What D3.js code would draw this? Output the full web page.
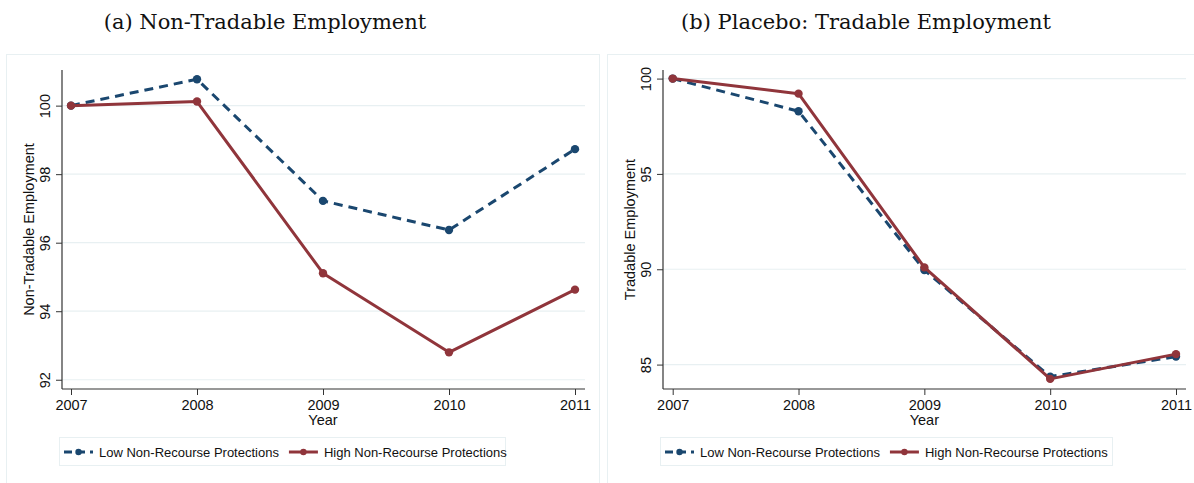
<!DOCTYPE html>
<html>
<head>
<meta charset="utf-8">
<script src="https://cdn.jsdelivr.net/npm/d3@7"></script>
<style>
  html, body { margin: 0; padding: 0; background: #fff; }
  svg { display: block; }
</style>
</head>
<body>
<svg id="chart" width="1194" height="483"></svg>
<script>
// Employment index (2007 = 100) by non-recourse protection group
const years = [2007, 2008, 2009, 2010, 2011];
const nonTradableLow  = [100, 100.77, 97.22, 96.37, 98.73];
const nonTradableHigh = [100, 100.12, 95.11, 92.80, 94.63];
const tradableLow     = [100, 98.29, 89.96, 84.37, 85.42];
const tradableHigh    = [100, 99.21, 90.10, 84.25, 85.55];
const nonTradableTicks = [92, 94, 96, 98, 100];
const tradableTicks    = [85, 90, 95, 100];
const seriesNames = ["Low Non-Recourse Protections", "High Non-Recourse Protections"];
const panelTitles = ["(a) Non-Tradable Employment", "(b) Placebo: Tradable Employment"];
const yTitles = ["Non-Tradable Employment", "Tradable Employment"];

const BLUE = "#1a476f", RED = "#90353b", GRID = "#e8f0f2", AXIS = "#333";
const SANS = "'Liberation Sans', Arial, sans-serif";

const svg = d3.select("#chart");

const panels = [
  { title: panelTitles[0], yTitle: yTitles[0], low: nonTradableLow, high: nonTradableHigh,
    ticks: nonTradableTicks, yDomain: [91.73, 101.04],
    frameX: 6.5, frameW: 593, titleX: 265,
    axisX: 62, xRange: [71, 575], axisEnd: 585,
    legendX: 59, legendW: 446 },
  { title: panelTitles[1], yTitle: yTitles[1], low: tradableLow, high: tradableHigh,
    ticks: tradableTicks, yDomain: [83.72, 100.45],
    frameX: 607.5, frameW: 620, titleX: 866,
    axisX: 663, xRange: [672.7, 1176], axisEnd: 1186,
    legendX: 660, legendW: 452 }
];

const plotTop = 70, plotBottom = 389;

panels.forEach(p => {
  const g = svg.append("g");

  // outer graph region frame
  g.append("rect")
    .attr("x", p.frameX).attr("y", 54.5)
    .attr("width", p.frameW).attr("height", 460)
    .attr("fill", "#fff").attr("stroke", GRID).attr("stroke-width", 1);

  // panel title
  g.append("text")
    .attr("x", p.titleX).attr("y", 28.5)
    .attr("text-anchor", "middle")
    .attr("font-family", "'DejaVu Serif', serif")
    .attr("font-size", 21)
    .attr("fill", "#111")
    .text(p.title);

  const x = d3.scaleLinear().domain([years[0], years[years.length - 1]]).range(p.xRange);
  const y = d3.scaleLinear().domain(p.yDomain).range([plotBottom, plotTop]);

  // horizontal gridlines
  g.append("g").selectAll("line").data(p.ticks).join("line")
    .attr("x1", p.axisX).attr("x2", p.axisEnd)
    .attr("y1", d => y(d)).attr("y2", d => y(d))
    .attr("stroke", GRID).attr("stroke-width", 1.2);

  // y axis
  const yAxis = g.append("g")
    .attr("transform", `translate(${p.axisX},0)`)
    .call(d3.axisLeft(y).tickValues(p.ticks).tickSize(6).tickSizeOuter(0).tickFormat(d3.format("d")));
  yAxis.select(".domain").remove();
  yAxis.append("line").attr("x1", 0).attr("x2", 0).attr("y1", plotTop).attr("y2", plotBottom)
    .attr("stroke", AXIS).attr("stroke-width", 1.2);
  yAxis.selectAll(".tick line").attr("stroke", AXIS).attr("stroke-width", 1);
  yAxis.selectAll(".tick text")
    .attr("font-family", SANS).attr("font-size", 14.5).attr("fill", "#111")
    .attr("text-anchor", "middle").attr("dy", null)
    .attr("x", null)
    .attr("transform", "translate(-12.5,0) rotate(-90)")
    .attr("y", 0);

  // x axis
  const xAxis = g.append("g")
    .attr("transform", `translate(0,${plotBottom})`)
    .call(d3.axisBottom(x).tickValues(years).tickSize(6).tickSizeOuter(0).tickFormat(d3.format("d")));
  xAxis.select(".domain").remove();
  xAxis.append("line").attr("x1", p.axisX).attr("x2", p.axisEnd).attr("y1", 0).attr("y2", 0)
    .attr("stroke", AXIS).attr("stroke-width", 1.2);
  xAxis.selectAll(".tick line").attr("stroke", AXIS).attr("stroke-width", 1);
  xAxis.selectAll(".tick text")
    .attr("font-family", SANS).attr("font-size", 14.5).attr("fill", "#111")
    .attr("dy", null).attr("y", 21);

  // axis titles
  g.append("text")
    .attr("x", x(2009)).attr("y", 425)
    .attr("text-anchor", "middle")
    .attr("font-family", SANS).attr("font-size", 14.5).attr("fill", "#111")
    .text("Year");
  g.append("text")
    .attr("transform", `translate(${p.axisX - 28},${(plotTop + plotBottom) / 2}) rotate(-90)`)
    .attr("text-anchor", "middle")
    .attr("font-family", SANS).attr("font-size", 14.5).attr("fill", "#111")
    .text(p.yTitle);

  // series
  const line = d3.line().x((d, i) => x(years[i])).y(d => y(d));
  const series = [
    { values: p.low, color: BLUE, dash: "9,6" },
    { values: p.high, color: RED, dash: null }
  ];
  series.forEach(s => {
    g.append("path")
      .datum(s.values)
      .attr("d", line)
      .attr("fill", "none")
      .attr("stroke", s.color)
      .attr("stroke-width", 3)
      .attr("stroke-dasharray", s.dash)
      .attr("stroke-linejoin", "round");
    g.append("g").selectAll("circle").data(s.values).join("circle")
      .attr("cx", (d, i) => x(years[i])).attr("cy", d => y(d))
      .attr("r", 4.2).attr("fill", s.color);
  });

  // legend
  const lg = g.append("g").attr("transform", `translate(${p.legendX},437)`);
  lg.append("rect").attr("x", 0.5).attr("y", 0.5).attr("width", p.legendW).attr("height", 28)
    .attr("fill", "#fff").attr("stroke", GRID).attr("stroke-width", 1);
  const keyW = 29;
  const items = [
    { name: seriesNames[0], color: BLUE, dash: "8,5" },
    { name: seriesNames[1], color: RED, dash: null }
  ];
  let cx = 5;
  items.forEach(it => {
    lg.append("line")
      .attr("x1", cx).attr("x2", cx + keyW).attr("y1", 15).attr("y2", 15)
      .attr("stroke", it.color).attr("stroke-width", 3)
      .attr("stroke-dasharray", it.dash);
    lg.append("circle").attr("cx", cx + keyW / 2).attr("cy", 15).attr("r", 3.2).attr("fill", it.color);
    const t = lg.append("text")
      .attr("x", cx + keyW + 6).attr("y", 19.5)
      .attr("font-family", SANS).attr("font-size", 13).attr("fill", "#111")
      .text(it.name);
    cx += keyW + 6 + t.node().getComputedTextLength() + 10;
  });
});
</script>
</body>
</html>
